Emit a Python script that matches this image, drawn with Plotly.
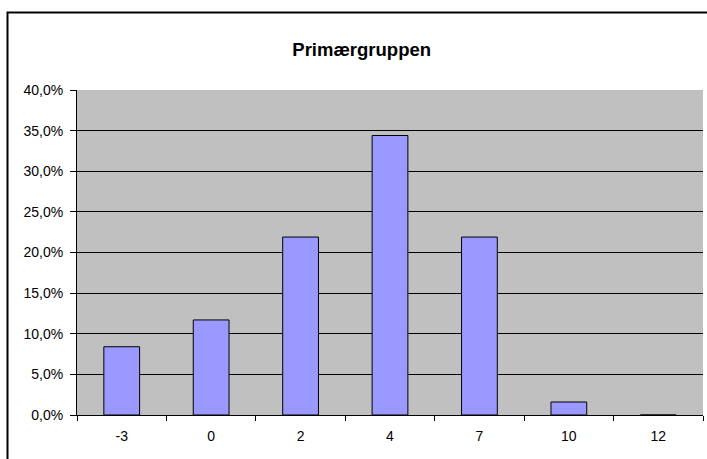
import plotly.graph_objects as go

categories = ["-3", "0", "2", "4", "7", "10", "12"]
values = [0.084, 0.117, 0.219, 0.344, 0.219, 0.016, 0.0]
y_ticks = [0, 0.05, 0.10, 0.15, 0.20, 0.25, 0.30, 0.35, 0.40]
title = "Primærgruppen"

W, H = 707, 459
L, R, T, B = 77, 4, 90, 44
pw, ph = W - L - R, H - T - B

def px2x(px):
    return (px - L) / pw

def py2y(py):
    return (H - B - py) / ph

fig = go.Figure(go.Bar(
    x=categories, y=values,
    marker=dict(color="#9999FF", line=dict(color="black", width=1)),
))

fig.update_layout(
    width=W, height=H,
    margin=dict(l=L, r=R, t=T, b=B),
    paper_bgcolor="white",
    plot_bgcolor="#C0C0C0",
    separators=",.",
    bargap=0.6,
    showlegend=False,
    font=dict(family="Liberation Sans, Arial", size=14, color="black"),
    title=dict(text="<b>" + title + "</b>", x=361.7 / W, xanchor="center",
               y=1 - 49.5 / H, yanchor="middle",
               font=dict(size=18.5, family="Liberation Sans, Arial", color="black")),
    xaxis=dict(
        type="category", tickson="boundaries", ticks="outside", ticklen=5,
        tickcolor="black", showline=True, linecolor="black", linewidth=1,
        showgrid=False, tickfont=dict(size=14), fixedrange=True,
        ticklabelstandoff=8,
    ),
    yaxis=dict(
        range=[0, 0.40], tickvals=y_ticks, tickformat=".1%",
        ticks="outside", ticklen=6, tickcolor="black",
        showline=True, linecolor="black", linewidth=1,
        showgrid=True, gridcolor="black", gridwidth=1,
        zeroline=False, tickfont=dict(size=14), fixedrange=True,
        ticklabelstandoff=4,
    ),
    shapes=[dict(
        type="rect", xref="paper", yref="paper",
        x0=px2x(7.5), x1=px2x(W + 10), y0=py2y(H + 10), y1=py2y(12.5),
        line=dict(color="black", width=2), fillcolor="rgba(0,0,0,0)",
        layer="above",
    )],
)

fig.write_html("out.html", config={"displayModeBar": False},
               post_script="document.body.style.margin='0';")
